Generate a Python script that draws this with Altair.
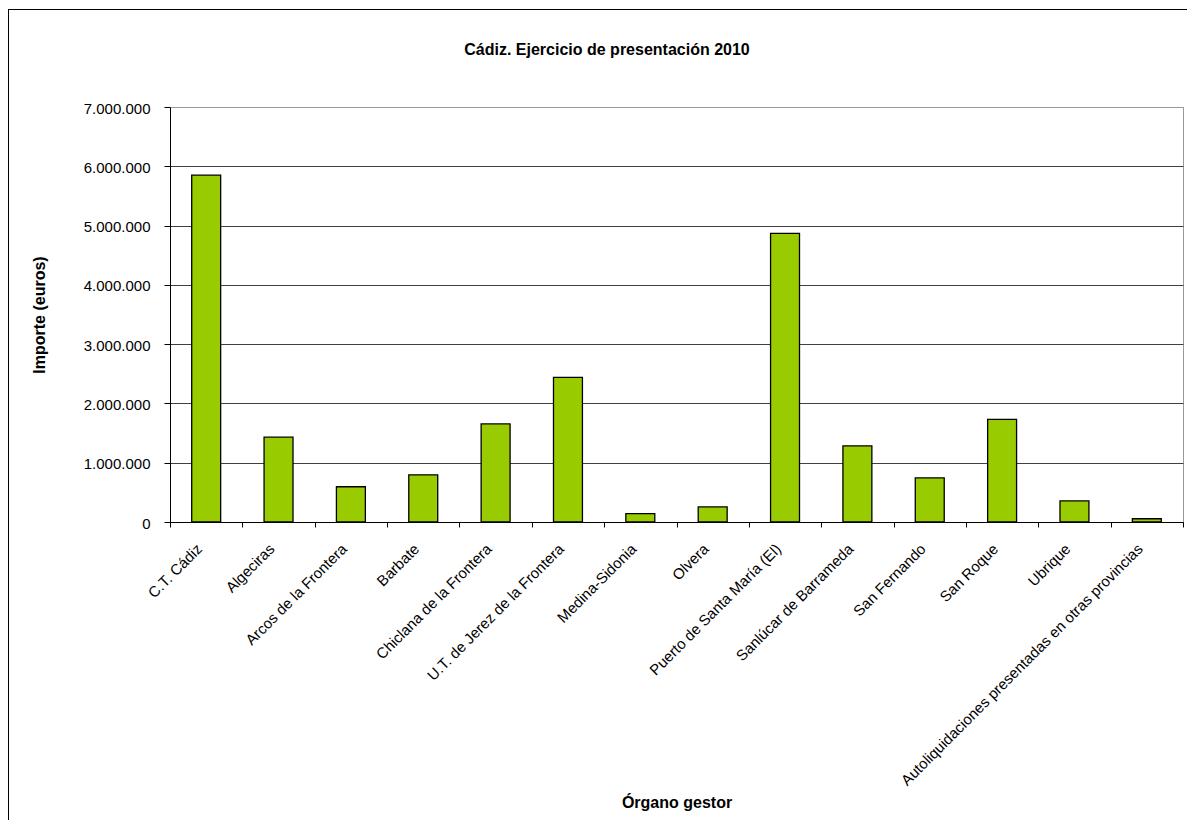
import altair as alt
import pandas as pd

categories = [
    "C.T. Cádiz",
    "Algeciras",
    "Arcos de la Frontera",
    "Barbate",
    "Chiclana de la Frontera",
    "U.T. de Jerez de la Frontera",
    "Medina-Sidonia",
    "Olvera",
    "Puerto de Santa María (El)",
    "Sanlúcar de Barrameda",
    "San Fernando",
    "San Roque",
    "Ubrique",
    "Autoliquidaciones presentadas en otras provincias",
]
values = [5850000, 1430000, 595000, 795000, 1655000, 2440000, 140000,
          255000, 4870000, 1285000, 745000, 1730000, 355000, 55000]
y_ticks = [0, 1000000, 2000000, 3000000, 4000000, 5000000, 6000000, 7000000]

title_text = "Cádiz. Ejercicio de presentación 2010"
x_title = "Órgano gestor"
y_title = "Importe (euros)"

df = pd.DataFrame({"organo": categories, "importe": values})

W, H = 1013, 415
PAD_L, PAD_T, PAD_R, PAD_B = 162, 99, 4, 298
FONT = "Liberation Sans"

bars = alt.Chart(df).mark_bar(
    color="#99CC00", stroke="#000000", strokeWidth=1.3,
    width=alt.RelativeBandSize(0.4)
).encode(
    x=alt.X("organo:N", sort=categories,
            scale=alt.Scale(paddingInner=0, paddingOuter=0),
            axis=alt.Axis(
                title=x_title, labelAngle=-45, labelAlign="right",
                labelBaseline="top", labelPadding=14, labelOffset=-12,
                tickBand="extent", tickSize=5, labelLimit=0,
                titleX=W / 2, titleY=285, titleBaseline="alphabetic",
                titleAlign="center")),
    y=alt.Y("importe:Q",
            scale=alt.Scale(domain=[0, 7000000], nice=False),
            axis=alt.Axis(
                values=y_ticks, format=",d", title=y_title,
                tickSize=6, labelPadding=14, labelOffset=1,
                gridColor={"condition": {"test": "datum.value === 7000000",
                                         "value": "#999999"},
                           "value": "#404040"},
                titleX=-126, titleY=H / 2, titleAngle=270,
                titleBaseline="alphabetic", titleAlign="center")),
)

frame_src = alt.Chart(pd.DataFrame({"k": [0]})).mark_rule(color="#000000", strokeWidth=1)
top_line = frame_src.encode(x=alt.value(-PAD_L), x2=alt.value(W + PAD_R),
                            y=alt.value(-PAD_T + 1.5))
left_line = frame_src.encode(x=alt.value(-PAD_L + 0.5), y=alt.value(-PAD_T + 1.5),
                             y2=alt.value(H + PAD_B))

chart = alt.layer(bars, top_line, left_line).properties(
    width=W, height=H,
    padding={"left": PAD_L, "top": PAD_T, "right": PAD_R, "bottom": PAD_B},
    autosize=alt.AutoSizeParams(type="none"),
    title=alt.TitleParams(title_text, font=FONT, fontSize=16, fontWeight="bold",
                          anchor="middle", frame="group", dx=-69.5, dy=61.5,
                          offset=0, baseline="alphabetic", color="#000000"),
).configure(
    locale={"number": {"decimal": ",", "thousands": ".", "grouping": [3],
                       "currency": ["", " €"]}},
).configure_view(
    stroke="#999999", strokeWidth=1
).configure_axis(
    labelFont=FONT, labelFontSize=15, labelColor="#000000",
    titleFont=FONT, titleFontSize=16, titleFontWeight="bold", titleColor="#000000",
    domainColor="#000000", tickColor="#000000", domainWidth=1, tickWidth=1,
    gridWidth=1,
).configure_axisX(grid=False)

chart.save("out.html", embed_options={"renderer": "svg", "actions": False})
